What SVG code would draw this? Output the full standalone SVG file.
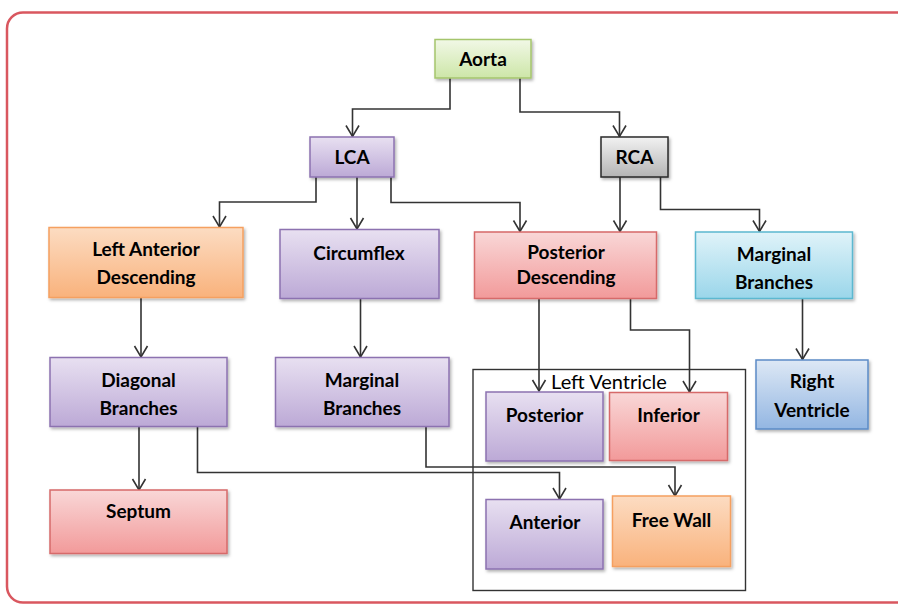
<svg xmlns="http://www.w3.org/2000/svg" width="898" height="605" viewBox="0 0 898 605">
<style>
.node rect{stroke-width:1.5;filter:url(#sh)}
.t{font-family:Lato,"Liberation Sans",sans-serif;font-weight:bold;font-size:19px;fill:#000;text-anchor:middle}
.lv{font-family:Lato,"Liberation Sans",sans-serif;font-size:20px;fill:#000;text-anchor:middle}
.purple rect{fill:url(#gPurple);stroke:#8c72b0}
.red rect{fill:url(#gRed);stroke:#d66a6a}
.orange rect{fill:url(#gOrange);stroke:#f5a060}
.cyan rect{fill:url(#gCyan);stroke:#5bb8d0}
.blue rect{fill:url(#gBlue);stroke:#5b8bc6}
.gray rect{fill:url(#gGray);stroke:#2a2a2a}
.green rect{fill:url(#gGreen);stroke:#a5c56c}
#connectors path{fill:none;stroke:#333;stroke-width:1.6;marker-end:url(#arr)}
</style>
<defs>
<filter id="sh" x="-10%" y="-10%" width="130%" height="140%">
<feDropShadow dx="1.5" dy="2" stdDeviation="1.5" flood-color="#000" flood-opacity="0.3"/>
</filter>
<linearGradient id="gPurple" x1="0" y1="0" x2="0" y2="1"><stop offset="0" stop-color="#e8e0f1"/><stop offset="1" stop-color="#bca9d6"/></linearGradient>
<linearGradient id="gRed" x1="0" y1="0" x2="0" y2="1"><stop offset="0" stop-color="#f9d7d7"/><stop offset="1" stop-color="#f29a9a"/></linearGradient>
<linearGradient id="gOrange" x1="0" y1="0" x2="0" y2="1"><stop offset="0" stop-color="#fcdcc2"/><stop offset="1" stop-color="#f9b27c"/></linearGradient>
<linearGradient id="gCyan" x1="0" y1="0" x2="0" y2="1"><stop offset="0" stop-color="#e0f3f9"/><stop offset="1" stop-color="#9ad6ea"/></linearGradient>
<linearGradient id="gBlue" x1="0" y1="0" x2="0" y2="1"><stop offset="0" stop-color="#dde8f5"/><stop offset="1" stop-color="#93b6e2"/></linearGradient>
<linearGradient id="gGray" x1="0" y1="0" x2="0" y2="1"><stop offset="0" stop-color="#f2f2f2"/><stop offset="1" stop-color="#b4b4b4"/></linearGradient>
<linearGradient id="gGreen" x1="0" y1="0" x2="0" y2="1"><stop offset="0" stop-color="#f1f8e6"/><stop offset="1" stop-color="#cde6a8"/></linearGradient>
<marker id="arr" markerUnits="userSpaceOnUse" viewBox="-12 -8 14 16" markerWidth="14" markerHeight="16" refX="0" refY="0" orient="auto" overflow="visible">
<path d="M-11,-6.5 L0,0 L-11,6.5" fill="none" stroke="#333" stroke-width="1.6"/>
</marker>
</defs>
<rect x="0" y="0" width="898" height="605" fill="#fff"/>
<rect x="7" y="12.5" width="910" height="590" rx="16" fill="#fff" stroke="#d9575f" stroke-width="2.5"/>

<rect id="leftVentricleGroup" x="473" y="369.5" width="272.5" height="221" fill="none" stroke="#333" stroke-width="1.4"/>
<text class="lv" x="609" y="389">Left Ventricle</text>

<g id="connectors">
<path d="M450,78 V109 H352.5 V136.5"/>
<path d="M520,78 V112 H619.5 V136.5"/>
<path d="M316,177 V202 H219.5 V227"/>
<path d="M357,177 V229"/>
<path d="M391,177 V202.5 H520 V231.5"/>
<path d="M620,177 V231.5"/>
<path d="M660.5,177 V209.5 H759.5 V231.5"/>
<path d="M141,297.5 V357"/>
<path d="M360.5,298.5 V357"/>
<path d="M539,298.5 V391"/>
<path d="M630.5,298.5 V330 H689.5 V392"/>
<path d="M802.5,298.5 V359.5"/>
<path d="M139,427 V490"/>
<path d="M197.5,427 V472.5 H559.5 V499"/>
<path d="M426,427 V467 H675 V496"/>
</g>

<g id="aorta" class="node green"><rect x="435" y="39.5" width="96" height="38.5"/><text class="t" x="483" y="65.5">Aorta</text></g>
<g id="lca" class="node purple"><rect x="310" y="137" width="84" height="40"/><text class="t" x="352" y="164">LCA</text></g>
<g id="rca" class="node gray"><rect x="601" y="137" width="67" height="40"/><text class="t" x="634.5" y="164">RCA</text></g>

<g id="lad" class="node orange"><rect x="49" y="227.5" width="194" height="70"/><text class="t" x="146" y="255.5">Left Anterior</text><text class="t" x="146" y="284">Descending</text></g>
<g id="circumflex" class="node purple"><rect x="280" y="229.5" width="159" height="69"/><text class="t" x="359" y="259.5">Circumflex</text></g>
<g id="posteriorDescending" class="node red"><rect x="474.5" y="232" width="182" height="66.5"/><text class="t" x="566" y="259">Posterior</text><text class="t" x="566" y="284">Descending</text></g>
<g id="marginalRight" class="node cyan"><rect x="695.5" y="232" width="157" height="66.5"/><text class="t" x="774" y="260.5">Marginal</text><text class="t" x="774" y="289">Branches</text></g>

<g id="diagonal" class="node purple"><rect x="50" y="357.5" width="177" height="69"/><text class="t" x="138.5" y="386.5">Diagonal</text><text class="t" x="138.5" y="415">Branches</text></g>
<g id="marginalLeft" class="node purple"><rect x="275.5" y="357.5" width="173.5" height="69"/><text class="t" x="362" y="386.5">Marginal</text><text class="t" x="362" y="415">Branches</text></g>
<g id="rightVentricle" class="node blue"><rect x="756" y="360" width="112" height="69"/><text class="t" x="812" y="387.5">Right</text><text class="t" x="812" y="416.5">Ventricle</text></g>

<g id="posterior" class="node purple"><rect x="486" y="392" width="117" height="69"/><text class="t" x="544.5" y="421.5">Posterior</text></g>
<g id="inferior" class="node red"><rect x="609.5" y="392.5" width="118" height="68"/><text class="t" x="668.5" y="421.5">Inferior</text></g>
<g id="anterior" class="node purple"><rect x="486" y="499.5" width="117" height="69.5"/><text class="t" x="545" y="529">Anterior</text></g>
<g id="freeWall" class="node orange"><rect x="612.5" y="496" width="118" height="70.5"/><text class="t" x="671.5" y="526.5">Free Wall</text></g>
<g id="septum" class="node red"><rect x="50" y="490" width="177" height="63.5"/><text class="t" x="138.5" y="517.5">Septum</text></g>
</svg>
